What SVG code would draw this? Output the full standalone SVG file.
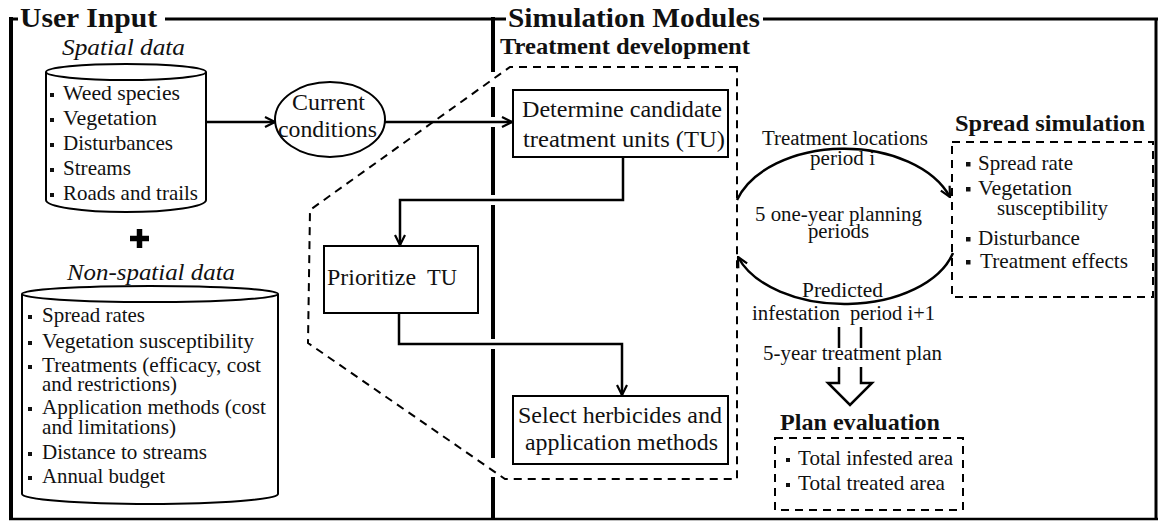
<svg xmlns="http://www.w3.org/2000/svg" width="1158" height="521" viewBox="0 0 1158 521">
<defs>
<style>
.t{font-family:"Liberation Serif","Times New Roman",serif;fill:#111}
.f19{font-size:19px}
.f20{font-size:20px}
.f21{font-size:21px}
.f23{font-size:23px}
.f24{font-size:24px}
.f28{font-size:28px}
.b{font-weight:bold}
.i{font-style:italic}
.fr{stroke:#000;fill:none;stroke-linecap:butt}
.box{fill:#fff;stroke:#000;stroke-width:2}
.shape{fill:#fff;stroke:#000;stroke-width:2}
.dash{fill:none;stroke:#000;stroke-width:2;stroke-dasharray:8 6}
.conn{fill:none;stroke:#000;stroke-width:2.5}
.bul{fill:#111}
</style>
<marker id="arr" viewBox="0 0 12 12" refX="11" refY="6" markerWidth="12" markerHeight="12" markerUnits="userSpaceOnUse" orient="auto">
<path d="M1,1 L11,6 L1,11" fill="none" stroke="#000" stroke-width="2.2"/>
</marker>
</defs>
<rect x="0" y="0" width="1158" height="521" fill="#fff"/>

<g id="frame">
<line class="fr" x1="11" y1="17" x2="11" y2="520" stroke-width="4"/>
<line class="fr" x1="9" y1="19" x2="18" y2="19" stroke-width="3"/>
<line class="fr" x1="165" y1="19" x2="495" y2="19" stroke-width="3"/>
<line class="fr" x1="493" y1="19" x2="506" y2="19" stroke-width="3"/>
<line class="fr" x1="763" y1="19" x2="1158" y2="19" stroke-width="3"/>
<line class="fr" x1="1156" y1="18" x2="1156" y2="520" stroke-width="3"/>
<line class="fr" x1="9" y1="519" x2="1158" y2="519" stroke-width="2.5" stroke="#333"/>
<path class="fr" stroke-width="4" d="M493,17 V72 M493,87 V117 M493,127 V195 M493,205 V339 M493,349 V458 M493,477 V520"/>
<text class="t b f28" x="20" y="27" textLength="137" lengthAdjust="spacingAndGlyphs">User Input</text>
<text class="t b f28" x="508" y="27" textLength="252" lengthAdjust="spacingAndGlyphs">Simulation Modules</text>
</g>

<g id="spatial-data">
<text class="t i f24" x="62" y="55" textLength="123" lengthAdjust="spacingAndGlyphs">Spatial data</text>
<path class="shape" d="M46,72 V200 A80,12 0 0 0 206,200 V72"/>
<ellipse class="shape" cx="126" cy="72" rx="80" ry="8"/>
<rect class="bul" x="50" y="93" width="4" height="4"/>
<rect class="bul" x="50" y="118" width="4" height="4"/>
<rect class="bul" x="50" y="143" width="4" height="4"/>
<rect class="bul" x="50" y="168" width="4" height="4"/>
<rect class="bul" x="50" y="193" width="4" height="4"/>
<text class="t f21" x="63" y="100" textLength="117" lengthAdjust="spacingAndGlyphs">Weed species</text>
<text class="t f21" x="63" y="125" textLength="94" lengthAdjust="spacingAndGlyphs">Vegetation</text>
<text class="t f21" x="63" y="150" textLength="110" lengthAdjust="spacingAndGlyphs">Disturbances</text>
<text class="t f21" x="63" y="175" textLength="68" lengthAdjust="spacingAndGlyphs">Streams</text>
<text class="t f21" x="63" y="200" textLength="135" lengthAdjust="spacingAndGlyphs">Roads and trails</text>
</g>

<g id="plus">
<path d="M139.5,229 V248 M130,238.5 H149" stroke="#000" stroke-width="5.5" fill="none"/>
</g>

<g id="nonspatial-data">
<text class="t i f24" x="67" y="280" textLength="168" lengthAdjust="spacingAndGlyphs">Non-spatial data</text>
<path class="shape" d="M22,294 V494 A128,10 0 0 0 278,494 V294"/>
<ellipse class="shape" cx="150" cy="294" rx="128" ry="8"/>
<rect class="bul" x="28" y="315" width="4" height="4"/>
<rect class="bul" x="28" y="341" width="4" height="4"/>
<rect class="bul" x="28" y="365" width="4" height="4"/>
<rect class="bul" x="28" y="407" width="4" height="4"/>
<rect class="bul" x="28" y="452" width="4" height="4"/>
<rect class="bul" x="28" y="476" width="4" height="4"/>
<text class="t f21" x="42" y="322" textLength="103" lengthAdjust="spacingAndGlyphs">Spread rates</text>
<text class="t f21" x="42" y="348" textLength="212" lengthAdjust="spacingAndGlyphs">Vegetation susceptibility</text>
<text class="t f21" x="42" y="372" textLength="219" lengthAdjust="spacingAndGlyphs">Treatments (efficacy, cost</text>
<text class="t f21" x="42" y="391" textLength="135" lengthAdjust="spacingAndGlyphs">and restrictions)</text>
<text class="t f21" x="42" y="414" textLength="224" lengthAdjust="spacingAndGlyphs">Application methods (cost</text>
<text class="t f21" x="42" y="434" textLength="134" lengthAdjust="spacingAndGlyphs">and limitations)</text>
<text class="t f21" x="42" y="459" textLength="165" lengthAdjust="spacingAndGlyphs">Distance to streams</text>
<text class="t f21" x="42" y="483" textLength="123" lengthAdjust="spacingAndGlyphs">Annual budget</text>
</g>

<g id="current-conditions">
<ellipse class="shape" cx="330" cy="119.5" rx="55" ry="37.5"/>
<text class="t f23" x="292" y="110" textLength="73" lengthAdjust="spacingAndGlyphs">Current</text>
<text class="t f23" x="278" y="137" textLength="99" lengthAdjust="spacingAndGlyphs">conditions</text>
</g>

<g id="treatment-development">
<polygon class="dash" points="737,67 510,67 310,210 308,343 505,479 737,479"/>
<text class="t b f24" x="500" y="54" textLength="250" lengthAdjust="spacingAndGlyphs">Treatment development</text>
</g>

<g id="determine-tu">
<rect class="box" x="513" y="90" width="215" height="67"/>
<text class="t f23" x="522" y="117" textLength="200" lengthAdjust="spacingAndGlyphs">Determine candidate</text>
<text class="t f23" x="523" y="147" textLength="202" lengthAdjust="spacingAndGlyphs">treatment units (TU)</text>
</g>

<g id="prioritize-tu">
<rect class="box" x="324" y="246" width="154" height="67"/>
<text class="t f23" x="327" y="285" textLength="89" lengthAdjust="spacingAndGlyphs">Prioritize</text>
<text class="t f23" x="427" y="285" textLength="30" lengthAdjust="spacingAndGlyphs">TU</text>
</g>

<g id="select-herbicides">
<rect class="box" x="513" y="396" width="215" height="68"/>
<text class="t f23" x="518" y="423" textLength="204" lengthAdjust="spacingAndGlyphs">Select herbicides and</text>
<text class="t f23" x="525" y="450" textLength="193" lengthAdjust="spacingAndGlyphs">application methods</text>
</g>

<g id="planning-cycle">
<text class="t f20" x="762" y="145" textLength="166" lengthAdjust="spacingAndGlyphs">Treatment locations</text>
<text class="t f20" x="810" y="165" textLength="65" lengthAdjust="spacingAndGlyphs">period i</text>
<text class="t f20" x="755" y="221" textLength="167" lengthAdjust="spacingAndGlyphs">5 one-year planning</text>
<text class="t f20" x="808" y="238" textLength="61" lengthAdjust="spacingAndGlyphs">periods</text>
<text class="t f20" x="802" y="297" textLength="81" lengthAdjust="spacingAndGlyphs">Predicted</text>
<text class="t f20" x="752" y="320" textLength="88" lengthAdjust="spacingAndGlyphs">infestation</text>
<text class="t f20" x="850" y="320" textLength="85" lengthAdjust="spacingAndGlyphs">period i+1</text>
<text class="t f20" x="763" y="360" textLength="179" lengthAdjust="spacingAndGlyphs">5-year treatment plan</text>
</g>

<g id="spread-simulation">
<text class="t b f24" x="955" y="131" textLength="190" lengthAdjust="spacingAndGlyphs">Spread simulation</text>
<rect class="dash" x="952" y="142" width="201" height="155"/>
<rect class="bul" x="966" y="162" width="4.5" height="4.5"/>
<rect class="bul" x="966" y="187" width="4.5" height="4.5"/>
<rect class="bul" x="966" y="237" width="4.5" height="4.5"/>
<rect class="bul" x="966" y="260" width="4.5" height="4.5"/>
<text class="t f21" x="978" y="170" textLength="95" lengthAdjust="spacingAndGlyphs">Spread rate</text>
<text class="t f21" x="978" y="195" textLength="94" lengthAdjust="spacingAndGlyphs">Vegetation</text>
<text class="t f21" x="997" y="215" textLength="111" lengthAdjust="spacingAndGlyphs">susceptibility</text>
<text class="t f21" x="978" y="245" textLength="102" lengthAdjust="spacingAndGlyphs">Disturbance</text>
<text class="t f21" x="980" y="268" textLength="148" lengthAdjust="spacingAndGlyphs">Treatment effects</text>
</g>

<g id="plan-evaluation">
<text class="t b f24" x="780" y="430" textLength="160" lengthAdjust="spacingAndGlyphs">Plan evaluation</text>
<rect class="dash" x="775" y="438" width="188" height="72"/>
<rect class="bul" x="786" y="458" width="4" height="4"/>
<rect class="bul" x="786" y="483" width="4" height="4"/>
<text class="t f21" x="798" y="465" textLength="155" lengthAdjust="spacingAndGlyphs">Total infested area</text>
<text class="t f21" x="798" y="490" textLength="147" lengthAdjust="spacingAndGlyphs">Total treated area</text>
</g>

<g id="connectors">
<path class="conn" d="M206,122 H275" marker-end="url(#arr)"/>
<path class="conn" d="M385,122 H512" marker-end="url(#arr)"/>
<path class="conn" d="M623,157 V200 H400 V245" marker-end="url(#arr)"/>
<path class="conn" d="M399,313 V344 H622 V395" marker-end="url(#arr)"/>
<path class="conn" stroke-width="2" d="M737,200 A112,72 0 0 1 950,197" marker-end="url(#arr)"/>
<path class="conn" stroke-width="2" d="M953,253 A112,68 0 0 1 738,257" marker-end="url(#arr)"/>
<path class="conn" stroke-width="2" d="M839,327 V348 M861,327 V348 M839,367 V383 H828 L850,405 L872,383 H861 V367"/>
</g>
</svg>
